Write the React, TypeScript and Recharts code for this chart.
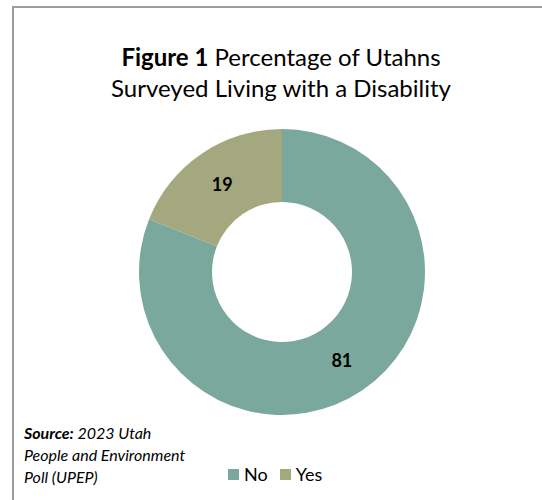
import { PieChart, Pie, Cell, Legend } from "recharts";

const categories = ["No", "Yes"];
const values = [81, 19];
const colors = ["#7ba89c", "#a3a87e"];

const data = categories.map((name, i) => ({ name, value: values[i] }));

const FONT = "Lato, 'Open Sans', sans-serif";
const RAD = Math.PI / 180;

const renderLabel = (p: any) => {
  const r = (p.innerRadius + p.outerRadius) / 2;
  const x = p.cx + r * Math.cos(-p.midAngle * RAD);
  const y = p.cy + r * Math.sin(-p.midAngle * RAD);
  return (
    <text x={x} y={y} textAnchor="middle" dominantBaseline="central" fill="#000" fontSize={18} fontWeight={700} fontFamily={FONT}>
      {p.value}
    </text>
  );
};

const renderLegend = () => (
  <div style={{ display: "flex", alignItems: "center", fontFamily: FONT, fontSize: 18, color: "#000" }}>
    {categories.map((c, i) => (
      <div key={c} style={{ display: "flex", alignItems: "center", marginRight: 12 }}>
        <span style={{ width: 11, height: 11, background: colors[i], display: "inline-block", marginRight: 5 }} />
        <span>{c}</span>
      </div>
    ))}
  </div>
);

export default function App() {
  return (
    <div style={{ position: "absolute", left: 0, top: 0, width: 542, height: 500, background: "#fff", overflow: "hidden" }}>
      <div style={{ position: "absolute", left: 12, top: 6, width: 560, height: 520, border: "2px solid #9e9e9e", boxSizing: "border-box" }} />
      <div style={{ position: "absolute", left: 0, top: 41, width: 562, textAlign: "center", fontFamily: FONT, fontSize: 24, lineHeight: "31px", color: "#000" }}>
        <b>Figure 1</b> Percentage of Utahns
        <br />
        Surveyed Living with a Disability
      </div>
      <div style={{ position: "absolute", left: 0, top: 0 }}>
        <PieChart width={542} height={500} margin={{ top: 0, right: 0, bottom: 0, left: 0 }}>
          <Pie
            data={data}
            dataKey="value"
            nameKey="name"
            cx={282}
            cy={272}
            innerRadius={70}
            outerRadius={143}
            startAngle={90}
            endAngle={-270}
            stroke="none"
            label={renderLabel}
            labelLine={false}
            isAnimationActive={false}
          >
            {data.map((d, i) => (
              <Cell key={d.name} fill={colors[i]} />
            ))}
          </Pie>
          <Legend content={renderLegend} wrapperStyle={{ position: "absolute", left: 228, top: 463, width: 120 }} />
        </PieChart>
      </div>
      <div style={{ position: "absolute", left: 24, top: 422, fontFamily: FONT, fontSize: 16, lineHeight: "22px", fontStyle: "italic", color: "#000" }}>
        <b>Source:</b> 2023 Utah
        <br />
        People and Environment
        <br />
        Poll (UPEP)
      </div>
    </div>
  );
}
